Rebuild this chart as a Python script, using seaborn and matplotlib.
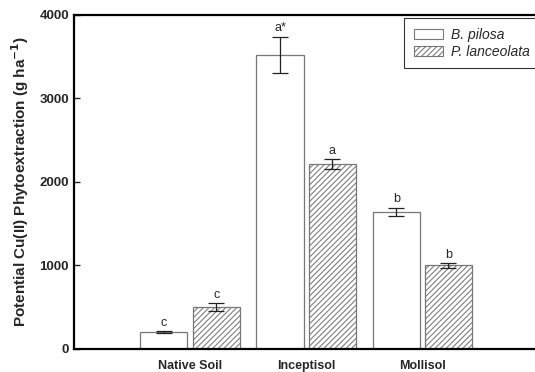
import matplotlib
matplotlib.use("Agg")
import matplotlib.pyplot as plt
import seaborn as sns
import pandas as pd
from matplotlib.patches import Patch

# Soil types and species
soils = ["Native Soil", "Inceptisol", "Mollisol"]
species = ["B. pilosa", "P. lanceolata"]

# Mean potential phytoextraction (g/ha) and standard errors
pilosa_mean = [200, 3520, 1640]
pilosa_err = [10, 220, 45]
lanceolata_mean = [500, 2210, 1000]
lanceolata_err = [45, 60, 25]

# Significance letters
pilosa_letters = ["c", "a*", "b"]
lanceolata_letters = ["c", "a", "b"]

df = pd.DataFrame({
    "Soil": soils * 2,
    "Species": [species[0]] * 3 + [species[1]] * 3,
    "Value": pilosa_mean + lanceolata_mean,
})

sns.set_style("ticks")
plt.rcParams["font.family"] = ["Liberation Sans", "DejaVu Sans"]
plt.rcParams["hatch.linewidth"] = 0.75
plt.rcParams["hatch.color"] = "#333333"

fig = plt.figure(figsize=(5.35, 3.72), dpi=100)
ax = fig.add_axes([0.138, 0.062, 0.862, 0.898])

sns.barplot(data=df, x="Soil", y="Value", hue="Species", order=soils,
            hue_order=species, errorbar=None, width=0.9, gap=0.1,
            palette=["white", "white"], edgecolor="#777777", linewidth=0.9,
            legend=False, ax=ax)

bar_groups = list(ax.containers)
for i, bars in enumerate(bar_groups):
    means = pilosa_mean if i == 0 else lanceolata_mean
    errs = pilosa_err if i == 0 else lanceolata_err
    letters = pilosa_letters if i == 0 else lanceolata_letters
    for bar, m, e, lab in zip(bars, means, errs, letters):
        if i == 1:
            bar.set_hatch("//////")
        xc = bar.get_x() + bar.get_width() / 2
        ax.errorbar(xc, m, yerr=e, color="#222222", capsize=6,
                    elinewidth=0.9, capthick=0.9, zorder=3)
        ax.annotate(lab, (xc, m + e), xytext=(0, 2), textcoords="offset points",
                    ha="center", va="bottom", fontsize=9)

ax.set_xlim(-1.0, 2.97)
ax.set_ylim(0, 4000)
ax.set_yticks([0, 1000, 2000, 3000, 4000])
ax.tick_params(axis="y", direction="in", length=4, width=1, labelsize=9.5)
ax.tick_params(axis="x", length=0, labelsize=9, pad=8)
for lab in ax.get_xticklabels() + ax.get_yticklabels():
    lab.set_fontweight("bold")
ax.set_xlabel("")
ax.set_ylabel("Potential Cu(II) Phytoextraction (g ha$^{\\mathbf{-1}}$)",
              fontsize=11, fontweight="bold", labelpad=6)

for side in ["left", "bottom", "top"]:
    ax.spines[side].set_linewidth(1.6)
    ax.spines[side].set_color("black")
ax.spines["right"].set_visible(False)

handles = [Patch(facecolor="white", edgecolor="#777777", linewidth=0.8),
           Patch(facecolor="white", edgecolor="#777777", hatch="//////", linewidth=0.8)]
leg = ax.legend(handles, species, loc="upper right", bbox_to_anchor=(1.01, 0.99),
                borderaxespad=0, frameon=True, fancybox=False, edgecolor="black",
                prop={"style": "italic", "size": 10}, handlelength=2.1,
                handleheight=0.7, borderpad=0.7, labelspacing=0.2, handletextpad=0.55)
leg.get_frame().set_linewidth(0.8)

fig.savefig("out.png", dpi=100)
